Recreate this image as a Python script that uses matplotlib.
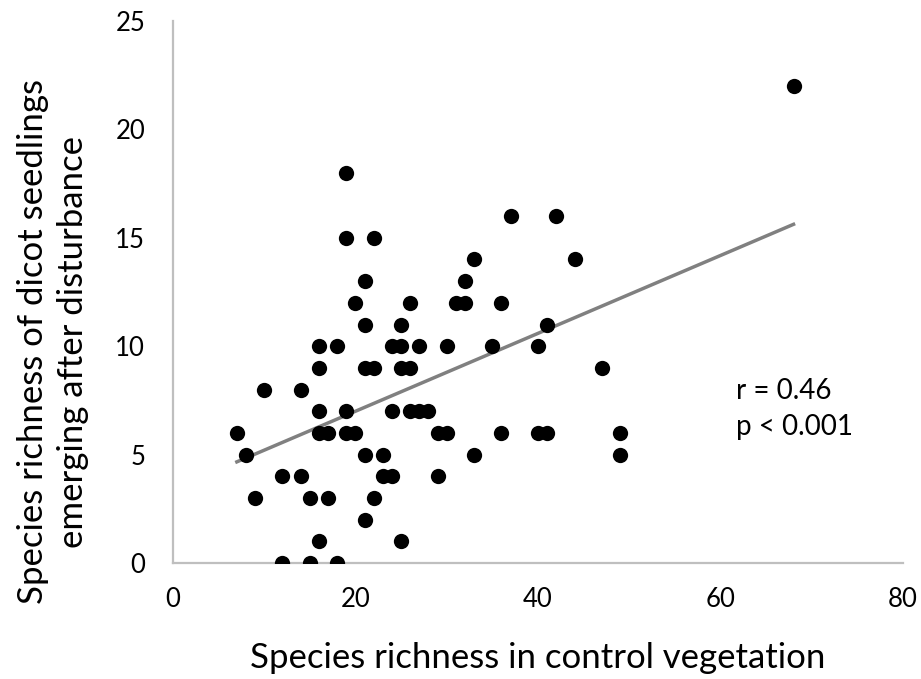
import numpy as np
import matplotlib
matplotlib.use('Agg')
import matplotlib.pyplot as plt

plt.rcParams['font.family'] = ['Lato', 'DejaVu Sans']

# species richness in control vegetation (x) vs dicot seedlings after disturbance (y)
control_richness = [12, 15, 18,
                    16, 25,
                    21,
                    9, 15, 17, 22,
                    12, 14, 23, 24, 29,
                    8, 21, 23, 33, 49,
                    7, 16, 17, 19, 20, 29, 30, 36, 40, 41, 49,
                    16, 19, 24, 26, 27, 28,
                    10, 14,
                    16, 21, 22, 25, 26, 47,
                    16, 18, 24, 25, 27, 30, 35, 40,
                    21, 25, 41,
                    20, 26, 31, 32, 36,
                    21, 32,
                    33, 44,
                    19, 22,
                    37, 42,
                    19,
                    68]
seedling_richness = [0, 0, 0,
                     1, 1,
                     2,
                     3, 3, 3, 3,
                     4, 4, 4, 4, 4,
                     5, 5, 5, 5, 5,
                     6, 6, 6, 6, 6, 6, 6, 6, 6, 6, 6,
                     7, 7, 7, 7, 7, 7,
                     8, 8,
                     9, 9, 9, 9, 9, 9,
                     10, 10, 10, 10, 10, 10, 10, 10,
                     11, 11, 11,
                     12, 12, 12, 12, 12,
                     13, 13,
                     14, 14,
                     15, 15,
                     16, 16,
                     18,
                     22]
stats_text = 'r = 0.46\np < 0.001'

x = np.array(control_richness, dtype=float)
y = np.array(seedling_richness, dtype=float)

fig = plt.figure(figsize=(9.21, 6.79), dpi=100)
ax = fig.add_axes([0.1878, 0.1708, 0.7927, 0.7983])

ax.scatter(x, y, s=121, color='black', zorder=3, linewidths=0)

# linear trend line over the data range
slope, intercept = np.polyfit(x, y, 1)
xs = np.array([x.min(), x.max()])
ax.plot(xs, slope * xs + intercept, color='#808080', lw=2.5, zorder=2)

ax.set_xlim(0, 80)
ax.set_ylim(0, 25)
ax.set_xticks([0, 20, 40, 60, 80])
ax.set_yticks([0, 5, 10, 15, 20, 25])
ax.tick_params(length=0, labelsize=18.5, colors='black')
ax.tick_params(axis='x', pad=17)
ax.tick_params(axis='y', pad=20)

for side in ['top', 'right']:
    ax.spines[side].set_visible(False)
for side in ['left', 'bottom']:
    ax.spines[side].set_color('#BFBFBF')
    ax.spines[side].set_linewidth(1.6)

ax.set_xlabel('Species richness in control vegetation', fontsize=25, labelpad=22)
fig.text(53 / 921, 1 - 342 / 679,
         'Species richness of dicot seedlings\nemerging after disturbance',
         rotation=90, ha='center', va='center', fontsize=25,
         multialignment='center', linespacing=1.3)

ax.text(61.7, 7.1, stats_text, fontsize=20, va='center', ha='left', linespacing=1.45)

fig.savefig('out.png', dpi=100)
